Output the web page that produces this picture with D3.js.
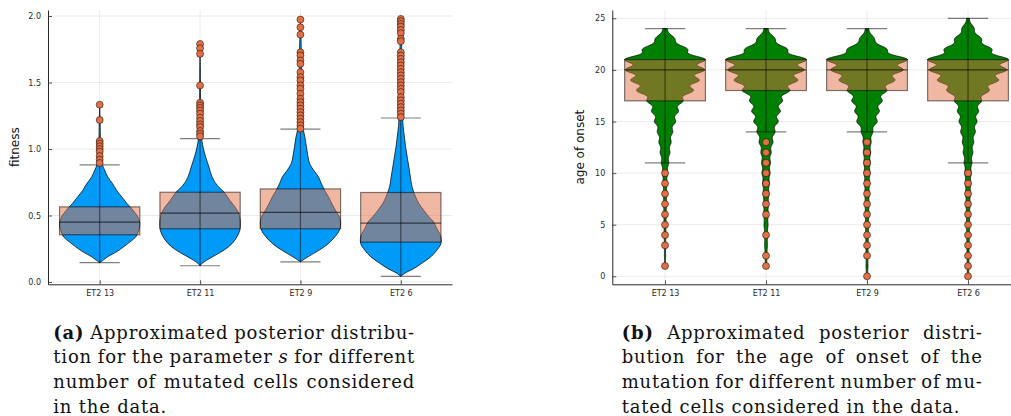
<!DOCTYPE html>
<html>
<head>
<meta charset="utf-8">
<script src="https://cdn.jsdelivr.net/npm/d3@7"></script>
<style>
  html, body { margin: 0; padding: 0; background: #fff; }
  svg { display: block; }
</style>
</head>
<body>
<svg id="fig" width="1011" height="416"></svg>
<script>
// ---------- shared ----------
const categories = ["ET2 13", "ET2 11", "ET2 9", "ET2 6"];

// ---------- panel (a): fitness ----------
const fitnessTicks = [0, 0.5, 1.0, 1.5, 2.0];
const fitnessTickLabels = ["0.0", "0.5", "1.0", "1.5", "2.0"];
const fitnessQ1 = [0.355, 0.40, 0.40, 0.30];
const fitnessMedian = [0.45, 0.518, 0.523, 0.443];
const fitnessQ3 = [0.565, 0.675, 0.70, 0.673];
const fitnessWhiskerLow = [0.145, 0.122, 0.152, 0.043];
const fitnessWhiskerHigh = [0.88, 1.078, 1.15, 1.233];
const fitnessOutliers = [
  [1.333, 1.218, 1.06, 1.04, 1.02, 1.0, 0.98, 0.947, 0.92, 0.895],
  [1.79, 1.757, 1.715, 1.478, 1.348, 1.328, 1.31, 1.29, 1.265, 1.235, 1.21, 1.185, 1.165, 1.135, 1.115, 1.095],
  [1.973, 1.915, 1.86, 1.727, 1.703, 1.665, 1.64, 1.577, 1.54, 1.515, 1.478, 1.453, 1.415, 1.378, 1.352,
   1.328, 1.303, 1.277, 1.253, 1.228, 1.202, 1.178, 1.153],
  [1.978, 1.96, 1.94, 1.92, 1.895, 1.87, 1.828, 1.81, 1.727, 1.703, 1.678, 1.652, 1.628, 1.603, 1.577,
   1.553, 1.528, 1.502, 1.478, 1.453, 1.428, 1.39, 1.365, 1.34, 1.315, 1.29, 1.265, 1.24]
];
// violin outline: [value, relative half-width]
const fitnessDensity = [
  [[0.145,0],[0.165,0.09],[0.19,0.2],[0.227,0.42],[0.265,0.6],[0.3,0.75],[0.34,0.9],[0.39,0.975],[0.44,1],
   [0.49,0.95],[0.54,0.83],[0.59,0.68],[0.64,0.55],[0.69,0.42],[0.74,0.32],[0.79,0.2],[0.84,0.125],
   [0.88,0.07],[0.95,0.035],[1.05,0.02],[1.2,0.012],[1.333,0]],
  [[0.122,0],[0.14,0.05],[0.165,0.17],[0.2,0.37],[0.24,0.6],[0.29,0.8],[0.34,0.92],[0.39,0.99],[0.46,1],
   [0.51,0.97],[0.56,0.88],[0.61,0.75],[0.675,0.6],[0.725,0.43],[0.79,0.3],[0.865,0.22],[0.94,0.14],
   [1.015,0.075],[1.09,0.035],[1.2,0.015],[1.5,0.01],[1.79,0]],
  [[0.152,0],[0.19,0.19],[0.24,0.47],[0.29,0.7],[0.34,0.86],[0.39,0.97],[0.44,1],[0.49,0.97],[0.54,0.87],
   [0.59,0.78],[0.64,0.7],[0.69,0.6],[0.74,0.52],[0.79,0.45],[0.84,0.33],[0.89,0.23],[0.94,0.19],
   [1.015,0.15],[1.09,0.11],[1.14,0.075],[1.2,0.05],[1.4,0.035],[1.7,0.025],[1.973,0]],
  [[0.043,0],[0.07,0.12],[0.1,0.32],[0.14,0.52],[0.19,0.75],[0.24,0.9],[0.29,1],[0.35,0.99],[0.4,0.9],
   [0.45,0.82],[0.49,0.7],[0.54,0.57],[0.59,0.45],[0.64,0.37],[0.715,0.28],[0.79,0.24],[0.865,0.2],
   [0.94,0.16],[1.015,0.12],[1.09,0.09],[1.165,0.06],[1.215,0.05],[1.4,0.035],[1.7,0.025],[1.978,0]]
];

// ---------- panel (b): age of onset ----------
const onsetTicks = [0, 5, 10, 15, 20, 25];
const onsetTickLabels = ["0", "5", "10", "15", "20", "25"];
const onsetQ1 = [17, 18, 18, 17];
const onsetMedian = [20, 20, 20, 20];
const onsetQ3 = [21, 21, 21, 21];
const onsetWhiskerLow = [11, 14, 14, 11];
const onsetWhiskerHigh = [24, 24, 24, 25];
const onsetOutliers = [
  [10, 9, 8, 7, 6, 5, 4, 3, 1],
  [13, 12, 11, 10, 9, 8, 7, 6, 4, 2, 1],
  [13, 12, 11, 10, 9, 8, 7, 6, 5, 4, 3, 2, 0],
  [10, 9, 8, 7, 6, 5, 4, 3, 2, 1, 0]
];
// relative weight of each integer age (first entry = age onsetDensityStart[i])
const onsetDensityStart = [1, 1, 0, 0];
const onsetDensity = [
  [0.012,0.015,0.02,0.025,0.03,0.035,0.04,0.045,0.05,0.065,0.09,0.12,0.15,0.19,0.26,0.33,0.44,0.7,0.84,0.97,1.0,0.55,0.24,0.05],
  [0.02,0.03,0.035,0.045,0.05,0.06,0.065,0.075,0.085,0.1,0.11,0.125,0.17,0.22,0.3,0.35,0.4,0.58,0.78,0.93,1.0,0.52,0.22,0.05],
  [0.02,0.025,0.03,0.035,0.04,0.045,0.05,0.055,0.06,0.065,0.075,0.08,0.09,0.1,0.14,0.25,0.3,0.37,0.48,0.68,0.88,1.0,0.48,0.18,0.04],
  [0.02,0.025,0.03,0.035,0.04,0.045,0.05,0.055,0.065,0.07,0.08,0.095,0.12,0.14,0.18,0.22,0.26,0.33,0.52,0.75,0.95,1.0,0.58,0.33,0.15,0.03]
];
const onsetBandwidth = 0.38;

// ---------- captions ----------
const captionA = [
  [{t:"(a)", b:true}, {t:"Approximated"}, {t:"posterior"}, {t:"distribu-"}],
  [{t:"tion"}, {t:"for"}, {t:"the"}, {t:"parameter"}, {t:"s", i:true}, {t:"for"}, {t:"different"}],
  [{t:"number"}, {t:"of"}, {t:"mutated"}, {t:"cells"}, {t:"considered"}],
  [{t:"in"}, {t:"the"}, {t:"data."}]
];
const captionB = [
  [{t:"(b)", b:true}, {t:"Approximated"}, {t:"posterior"}, {t:"distri-"}],
  [{t:"bution"}, {t:"for"}, {t:"the"}, {t:"age"}, {t:"of"}, {t:"onset"}, {t:"of"}, {t:"the"}],
  [{t:"mutation"}, {t:"for"}, {t:"different"}, {t:"number"}, {t:"of"}, {t:"mu-"}],
  [{t:"tated"}, {t:"cells"}, {t:"considered"}, {t:"in"}, {t:"the"}, {t:"data."}]
];

// ---------- styling ----------
const boxColor = "#E26F46";
const tickFont = "DejaVu Sans, sans-serif";
const svg = d3.select("#fig");

// smooth an integer-valued histogram with a gaussian kernel
function kernelOutline(weights, start, h) {
  const lo = start, hi = start + weights.length - 1;
  const pts = [];
  for (let v = lo; v <= hi + 1e-9; v += 0.05) {
    let s = 0;
    weights.forEach((c, k) => {
      const d = v - (start + k);
      s += c * Math.exp(-d * d / (2 * h * h));
    });
    pts.push([v, s]);
  }
  const m = d3.max(pts, p => p[1]);
  return pts.map(p => [p[0], p[1] / m]);
}

function drawPanel(o) {
  const g = svg.append("g");
  const x = d3.scaleLinear().domain(o.xDomain).range(o.xRange);
  const y = d3.scaleLinear().domain(o.yDomain).range([284.3, 10]);
  const halfBox = 0.4;
  const xl = o.xRange[0], xr = o.xRange[1];

  // grid
  g.append("g").selectAll("line.gy").data(o.ticks).join("line")
    .attr("x1", xl).attr("x2", xr).attr("y1", d => y(d)).attr("y2", d => y(d))
    .attr("stroke", "#000").attr("stroke-opacity", 0.08).attr("stroke-width", 1);
  g.append("g").selectAll("line.gx").data(categories).join("line")
    .attr("x1", (d, i) => x(i + 1)).attr("x2", (d, i) => x(i + 1))
    .attr("y1", 10).attr("y2", 284.3)
    .attr("stroke", "#000").attr("stroke-opacity", 0.08).attr("stroke-width", 1);

  // violins
  const area = d3.area().curve(o.curve)
    .y(d => y(d[0]));
  o.outlines.forEach((pts, i) => {
    const c = i + 1;
    area.x0(d => x(c - halfBox * d[1])).x1(d => x(c + halfBox * d[1]));
    g.append("path").attr("d", area(pts))
      .attr("fill", o.violinColor)
      .attr("stroke", "#000").attr("stroke-width", 0.8).attr("stroke-opacity", 0.9);
  });

  // boxes
  categories.forEach((cat, i) => {
    const c = i + 1;
    g.append("rect")
      .attr("x", x(c - halfBox)).attr("width", x(c + halfBox) - x(c - halfBox))
      .attr("y", y(o.q3[i])).attr("height", y(o.q1[i]) - y(o.q3[i]))
      .attr("fill", boxColor).attr("fill-opacity", 0.5)
      .attr("stroke", "#000").attr("stroke-opacity", 0.5).attr("stroke-width", 1.2);
    g.append("line")
      .attr("x1", x(c)).attr("x2", x(c))
      .attr("y1", y(o.lo[i])).attr("y2", y(o.hi[i]))
      .attr("stroke", "#000").attr("stroke-opacity", 0.5).attr("stroke-width", 1.2);
    [o.lo[i], o.hi[i]].forEach(v => {
      g.append("line")
        .attr("x1", x(c - halfBox / 2)).attr("x2", x(c + halfBox / 2))
        .attr("y1", y(v)).attr("y2", y(v))
        .attr("stroke", "#000").attr("stroke-opacity", 0.5).attr("stroke-width", 1.2);
    });
    g.append("line")
      .attr("x1", x(c - halfBox)).attr("x2", x(c + halfBox))
      .attr("y1", y(o.med[i])).attr("y2", y(o.med[i]))
      .attr("stroke", "#000").attr("stroke-opacity", 0.6).attr("stroke-width", 1.2);
    g.append("g").selectAll("circle").data(o.outliers[i]).join("circle")
      .attr("cx", x(c)).attr("cy", d => y(d)).attr("r", 3.5)
      .attr("fill", boxColor)
      .attr("stroke", "#000").attr("stroke-opacity", 0.7).attr("stroke-width", 0.7);
  });

  // axes
  const yAxis = d3.axisLeft(y).tickValues(o.ticks).tickFormat((d, i) => o.tickLabels[i])
    .tickSizeInner(-4).tickSizeOuter(0).tickPadding(7);
  const ya = g.append("g").attr("transform", `translate(${xl},0)`).call(yAxis);
  const xAxis = d3.axisBottom(x).tickValues([1, 2, 3, 4]).tickFormat(d => categories[d - 1])
    .tickSizeInner(-4).tickSizeOuter(0).tickPadding(6);
  const xa = g.append("g").attr("transform", "translate(0,284.3)").call(xAxis);
  [ya, xa].forEach(a => {
    a.select(".domain").attr("stroke", "#2a2a2a").attr("stroke-width", 1);
    a.selectAll(".tick line").attr("stroke", "#2a2a2a").attr("stroke-width", 0.8);
    a.selectAll("text").attr("font-family", tickFont).attr("font-size", 8).attr("fill", "#2a2a2a");
  });
  xa.selectAll("text").attr("dy", "0.75em");

  g.append("text")
    .attr("transform", `translate(${o.labelX},${y((o.yDomain[0] + o.yDomain[1]) / 2)}) rotate(-90)`)
    .attr("text-anchor", "middle").attr("dominant-baseline", "central")
    .attr("font-family", tickFont).attr("font-size", 12).attr("fill", "#111")
    .text(o.label);
}

drawPanel({
  xDomain: [0.485, 4.51], xRange: [48, 452],
  yDomain: [(282 - 284.3) / 133, (282 - 10) / 133],
  ticks: fitnessTicks, tickLabels: fitnessTickLabels,
  q1: fitnessQ1, med: fitnessMedian, q3: fitnessQ3,
  lo: fitnessWhiskerLow, hi: fitnessWhiskerHigh, outliers: fitnessOutliers,
  outlines: fitnessDensity, curve: d3.curveCatmullRom,
  violinColor: "#009AF9", label: "fitness", labelX: 15
});

drawPanel({
  xDomain: [0.478, 4.522], xRange: [612.3, 612.3 + 4.044 * 101],
  yDomain: [(276.3 - 284.3) / 10.32, (276.3 - 10) / 10.32],
  ticks: onsetTicks, tickLabels: onsetTickLabels,
  q1: onsetQ1, med: onsetMedian, q3: onsetQ3,
  lo: onsetWhiskerLow, hi: onsetWhiskerHigh, outliers: onsetOutliers,
  outlines: onsetDensity.map((w, i) => kernelOutline(w, onsetDensityStart[i], onsetBandwidth)),
  curve: d3.curveLinear,
  violinColor: "#008000", label: "age of onset", labelX: 580
});

// ---------- captions (justified, serif) ----------
function drawCaption(lines, left, right, firstBaseline, lead) {
  const g = svg.append("g")
    .attr("font-family", "DejaVu Serif, serif")
    .attr("font-size", 18).attr("letter-spacing", 0.8).attr("fill", "#111");
  lines.forEach((words, li) => {
    const yb = firstBaseline + li * lead;
    const line = g.append("g");
    const nodes = words.map(w => line.append("text")
      .attr("y", yb)
      .attr("font-weight", w.b ? "bold" : null)
      .attr("font-style", w.i ? "italic" : null)
      .text(w.t));
    let widths = nodes.map(n => n.node().getComputedTextLength());
    const last = li === lines.length - 1;
    const minGap = 5;
    const room = right - left - minGap * (words.length - 1);
    const total = d3.sum(widths);
    if (total > room) {
      // squeeze a too-long line horizontally so it fits the column
      const k = room / total;
      nodes.forEach((n, j) => n.attr("textLength", widths[j] * k).attr("lengthAdjust", "spacingAndGlyphs"));
      widths = widths.map(w => w * k);
    }
    const gap = last ? 6.5 : (right - left - d3.sum(widths)) / (words.length - 1);
    let cx = left;
    nodes.forEach((n, k) => { n.attr("x", cx); cx += widths[k] + gap; });
  });
}
drawCaption(captionA, 53.3, 415, 338.5, 24.8);
drawCaption(captionB, 621.7, 982.7, 338.5, 24.8);
</script>
</body>
</html>
